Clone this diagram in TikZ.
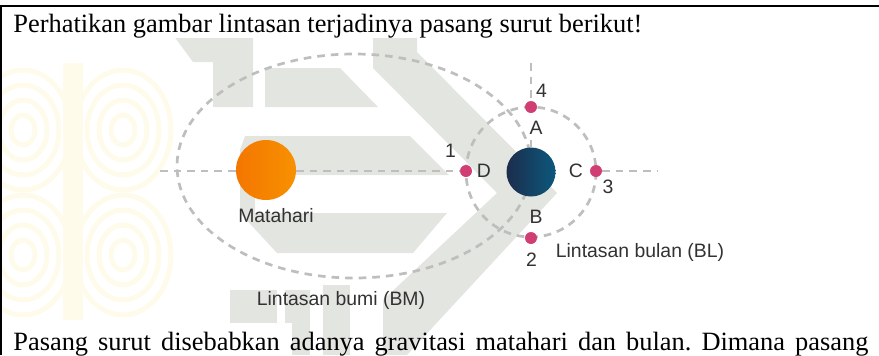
\documentclass[tikz,border=0pt]{standalone}
\usepackage{fontspec}
\setmainfont{Liberation Serif}
\newfontfamily\labelfont{Liberation Sans}
\frenchspacing

\definecolor{orbitgrey}{RGB}{190,190,190}
\definecolor{pointpink}{RGB}{209,62,115}
\definecolor{labelgrey}{RGB}{50,50,50}
\definecolor{sunL}{RGB}{244,118,0}
\definecolor{sunR}{RGB}{247,145,0}
\definecolor{earthL}{RGB}{28,45,76}
\definecolor{earthR}{RGB}{12,88,124}
\definecolor{wmgrey}{RGB}{227,229,225}
\definecolor{wmyellow}{RGB}{254,251,235}

\begin{document}
\begin{tikzpicture}[
    x=0.5pt, y=-0.5pt,
    guide/.style={draw=orbitgrey, line width=1.35pt, dash pattern=on 3.8pt off 3pt},
    planet/.style={circle, inner sep=0pt, shading=axis, shading angle=90},
    moonpt/.style={circle, fill=pointpink, minimum size=5.8pt, inner sep=0pt},
    lbl/.style={font=\labelfont\fontsize{9.7}{11}\selectfont, text=labelgrey, inner sep=0pt},
    body/.style={font=\fontsize{13.2}{15}\selectfont, inner sep=0pt, anchor=base west},
    wm/.style={fill=wmgrey, draw=none},
    emblem/.style={draw=wmyellow, line width=2.5pt}
]
\useasboundingbox (0,0) rectangle (879,355);

% watermark
\begin{scope}
    \clip (2,8) rectangle (200,355);
    \fill[wmyellow] (63,63) rectangle (83,320);
    \foreach \cx in {23,123} {
        \foreach \cy in {130,255} {
            \foreach \r in {1,2,3,4} {
                \draw[emblem] (\cx,\cy) ellipse [x radius=\r*12, y radius=\r*15];
            }
        }
    }
\end{scope}
\fill[wm] (373,9) -- (417,9) -- (417,52) -- (557,193) -- (407,355) -- (383,355)
    -- (383,300) -- (497,193) -- (373,68) -- cycle;
\fill[wm] (154,9) -- (253,9) -- (253,107) -- (213,107) -- (213,62) -- (193,62) -- cycle;
\fill[wm] (265,68) -- (340,68) -- (378,107) -- (265,107) -- cycle;
\fill[wm] (245,136) -- (410,136) -- (449,175) -- (255,175) -- (255,213) -- (447,213)
    -- (413,253) -- (277,253) -- (240,213) -- (240,150) -- cycle;
\fill[wm] (230,290) rectangle (277,355);
\fill[wm] (285,290) rectangle (310,355);
\fill[wm] (323,285) rectangle (350,355);
\fill[white] (2,8) rectangle (660,38);
\fill[white] (2,323) rectangle (292,355);

% frame and text
\draw[line width=1pt] (0,6) -- (879,6);
\draw[line width=0.9pt] (1,6) -- (1,355);
\node[body] (soal) at (13,32.3) {Perhatikan gambar lintasan terjadinya pasang surut berikut!};
\node[body] (lanjut) at (13,350.7)
    {\makebox[427.5pt][s]{Pasang surut disebabkan adanya gravitasi matahari dan bulan. Dimana pasang}};

% orbits
\coordinate (axL) at (160,171);
\coordinate (axR) at (657,171);
\coordinate (axT) at (531,63);
\draw[guide] (354,166) ellipse [x radius=177, y radius=112];
\draw[guide] (531,172) circle [radius=65];

\node[moonpt] (posD) at (466,171) {};
\node[moonpt] (posC) at (596,171) {};
\node[moonpt] (posA) at (531,107) {};
\node[moonpt] (posB) at (531,238) {};

\node[lbl] (labA) at (536,128) {A};
\node[lbl] (labB) at (536,217) {B};
\node[lbl] (labC) at (576,171) {C};
\node[lbl] (labD) at (484,171) {D};

\draw[guide] (axL) -- (posD);
\draw[guide] (posC) -- (axR);
\draw[guide] (axT) -- (posA);

\node[planet, left color=sunL, right color=sunR, minimum size=30pt] (matahari) at (266,170) {};
\node[planet, left color=earthL, right color=earthR, minimum size=24.5pt] (bumi) at (531,172) {};
\draw[guide] (bumi.north) -- (bumi.north |- 0,136);

\foreach \p in {posA,posB,posC,posD} {
    \node[moonpt] at (\p) {};
}

\node[lbl] at (541.5,90.5) {4};
\node[lbl] at (450.5,150.5) {1};
\node[lbl] at (608,187) {3};
\node[lbl] at (531.5,260) {2};
\node[lbl] at (276,216) {Matahari};
\node[lbl] at (341,300) {Lintasan bumi (BM)};
\node[lbl] at (640,252) {Lintasan bulan (BL)};
\end{tikzpicture}
\end{document}
